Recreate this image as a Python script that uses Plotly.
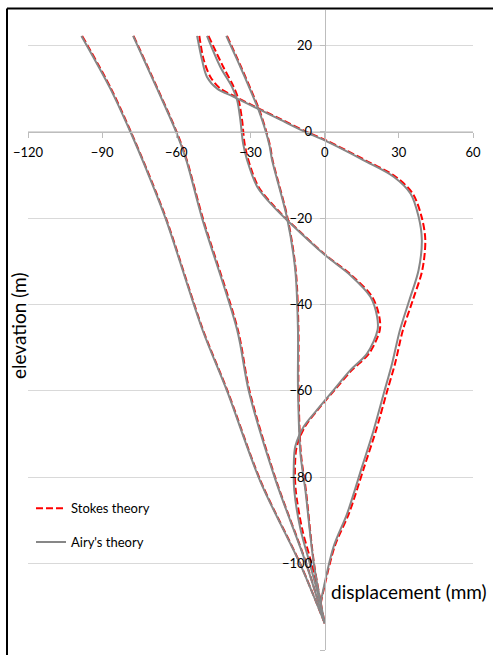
import plotly.graph_objects as go

# ---- data (displacement in mm, elevation in m) ----
elev_A = [22.2, 10, 0, -8.5, -20, -45.9, -60, -81, -100, -113.8]
airy_A = [-98.4, -86.7, -78.6, -72.3, -64.4, -49.4, -39.5, -26.0, -10.0, 0]
stokes_A = [-98.1, -86.4, -78.4, -72.1, -64.2, -49.2, -39.3, -25.8, -9.9, 0]

elev_B = [22.2, 10, 0, -6.5, -20, -45.9, -60, -80.6, -100, -113.8]
airy_B = [-77.5, -67.8, -60.1, -56.0, -49.6, -35.4, -30.7, -19.9, -7.5, 0]
stokes_B = [-77.3, -67.6, -59.9, -55.8, -49.3, -35.1, -30.4, -19.7, -7.4, 0]

elev_P1 = [22.2, 16.6, 12.7, 10.0, 8.1, 5.2, 2.8, 0, -2, -6.6, -10.4, -14.3, -19.7,
           -25, -32, -38.9, -46, -53.6, -60.6, -69.1, -77.6, -88.4, -96.1, -109.2]
airy_P1 = [-51.6, -49.6, -47.6, -43.5, -36.8, -26.5, -18.0, -8.0, 0, 15.8, 27.9, 34.7, 38.0,
           39.3, 38.0, 34.3, 30.4, 27.3, 23.9, 19.8, 15.1, 9.1, 3.6, -1.7]
stokes_P1 = [-50.7, -48.9, -46.2, -42.2, -36.1, -26.0, -17.4, -7.4, 0.6, 16.5, 28.7, 35.6, 39.2,
             40.7, 39.5, 35.7, 31.6, 28.5, 25.0, 20.8, 16.0, 9.8, 4.0, -1.6]

elev_P2 = [22.2, 15, 10.4, 7.3, 2.7, -2.7, -6.5, -12.7, -17.4, -21.2, -28.5, -33.2, -38.2,
           -42.8, -45.9, -51.3, -55.2, -59.8, -64.4, -68.3, -72.9, -77.6, -83, -92, -100, -109.2]
airy_P2 = [-47.6, -42.2, -37.5, -35.4, -34.1, -33.0, -31.4, -27.3, -20.6, -13.9, 0, 10.4, 18.5,
           21.2, 21.4, 17.2, 10.4, 3.6, -3.1, -8.5, -11.9, -12.5, -12.3, -9.8, -6.0, -1.7]
stokes_P2 = [-47.0, -41.0, -36.8, -34.8, -33.4, -32.4, -30.9, -26.8, -20.2, -13.6, 0.3, 10.8, 19.2,
             22.1, 22.3, 18.0, 11.0, 4.0, -2.8, -8.0, -11.3, -12.0, -11.7, -9.1, -5.3, -1.5]

elev_P3 = [22.2, 15, 9.7, 5.0, 0.4, -3.5, -6.5, -20, -32, -45.9, -59, -74.5, -83, -100, -113.8]
airy_P3 = [-39.8, -34.1, -30.1, -26.7, -24.0, -22.2, -21.3, -15.2, -11.9, -10.8, -10.8, -9.8, -7.8, -4.4, 0]
stokes_P3 = [-39.5, -33.8, -29.8, -26.4, -23.8, -22.0, -21.1, -15.0, -11.7, -10.6, -10.6, -9.6, -7.6, -4.3, 0]

x_ticks = [-120, -90, -60, -30, 0, 30, 60]
y_ticks = [-120, -100, -80, -60, -40, -20, 0, 20]
x_range = [-120, 60]
y_range = [-120, 28.2]

curves = [
    (elev_A, airy_A, stokes_A),
    (elev_B, airy_B, stokes_B),
    (elev_P1, airy_P1, stokes_P1),
    (elev_P2, airy_P2, stokes_P2),
    (elev_P3, airy_P3, stokes_P3),
]

FONT = "Lato"
RED = "#ff0000"
GRAY = "#878787"

fig = go.Figure()
for i, (el, ai, st) in enumerate(curves):
    fig.add_trace(go.Scatter(
        x=st, y=el, mode="lines", name="Stokes theory", legendgroup="stokes",
        showlegend=(i == 0),
        line=dict(color=RED, width=2, dash="7px,3px", shape="spline", smoothing=0.9)))
for i, (el, ai, st) in enumerate(curves):
    fig.add_trace(go.Scatter(
        x=ai, y=el, mode="lines", name="Airy's theory", legendgroup="airy",
        showlegend=(i == 0),
        line=dict(color=GRAY, width=2, shape="spline", smoothing=0.9)))

x_pos = (0 - y_range[0]) / (y_range[1] - y_range[0])
y_pos = (0 - x_range[0]) / (x_range[1] - x_range[0])

left_px = (7 - 28) / 445
top_py = (650 - 8.5) / 640

fig.update_layout(
    width=493, height=655,
    margin=dict(l=28, r=20, t=10, b=5),
    paper_bgcolor="white", plot_bgcolor="white",
    font=dict(family=FONT, size=13, color="#000"),
    xaxis=dict(range=x_range, tickvals=x_ticks, anchor="free", position=x_pos,
               showline=True, linecolor="#bdbdbd", linewidth=1,
               ticks="outside", ticklen=5, tickcolor="#bdbdbd",
               showgrid=False, zeroline=False, ticklabelstandoff=4,
               tickfont=dict(family=FONT, size=13, color="#000")),
    yaxis=dict(range=y_range, tickvals=y_ticks, anchor="free", position=y_pos,
               showline=True, linecolor="#bdbdbd", linewidth=1,
               ticks="outside", ticklen=5, tickcolor="#bdbdbd",
               showgrid=True, gridcolor="#d9d9d9", gridwidth=1, zeroline=False,
               ticklabelstandoff=5,
               tickfont=dict(family=FONT, size=13, color="#000")),
    legend=dict(x=(31 - 28) / 445, y=0.245, xanchor="left", yanchor="top",
                bgcolor="rgba(0,0,0,0)", tracegroupgap=14,
                font=dict(family=FONT, size=13, color="#000")),
    annotations=[
        dict(text="displacement (mm)", xref="paper", yref="paper",
             x=(329 - 28) / 445, y=(650 - 591) / 640, xanchor="left", yanchor="middle",
             showarrow=False, font=dict(family=FONT, size=19, color="#000")),
        dict(text="elevation (m)", xref="paper", yref="paper",
             x=(18 - 28) / 445, y=(650 - 326) / 640, xanchor="center", yanchor="middle",
             textangle=-90, showarrow=False, font=dict(family=FONT, size=19, color="#000")),
    ],
    shapes=[
        dict(type="line", xref="paper", yref="paper",
             x0=left_px, x1=left_px, y0=-0.05, y1=top_py,
             line=dict(color="black", width=2), layer="above"),
        dict(type="line", xref="paper", yref="paper",
             x0=left_px, x1=1.1, y0=top_py, y1=top_py,
             line=dict(color="black", width=2), layer="above"),
    ],
)

fig.write_html("out.html")
